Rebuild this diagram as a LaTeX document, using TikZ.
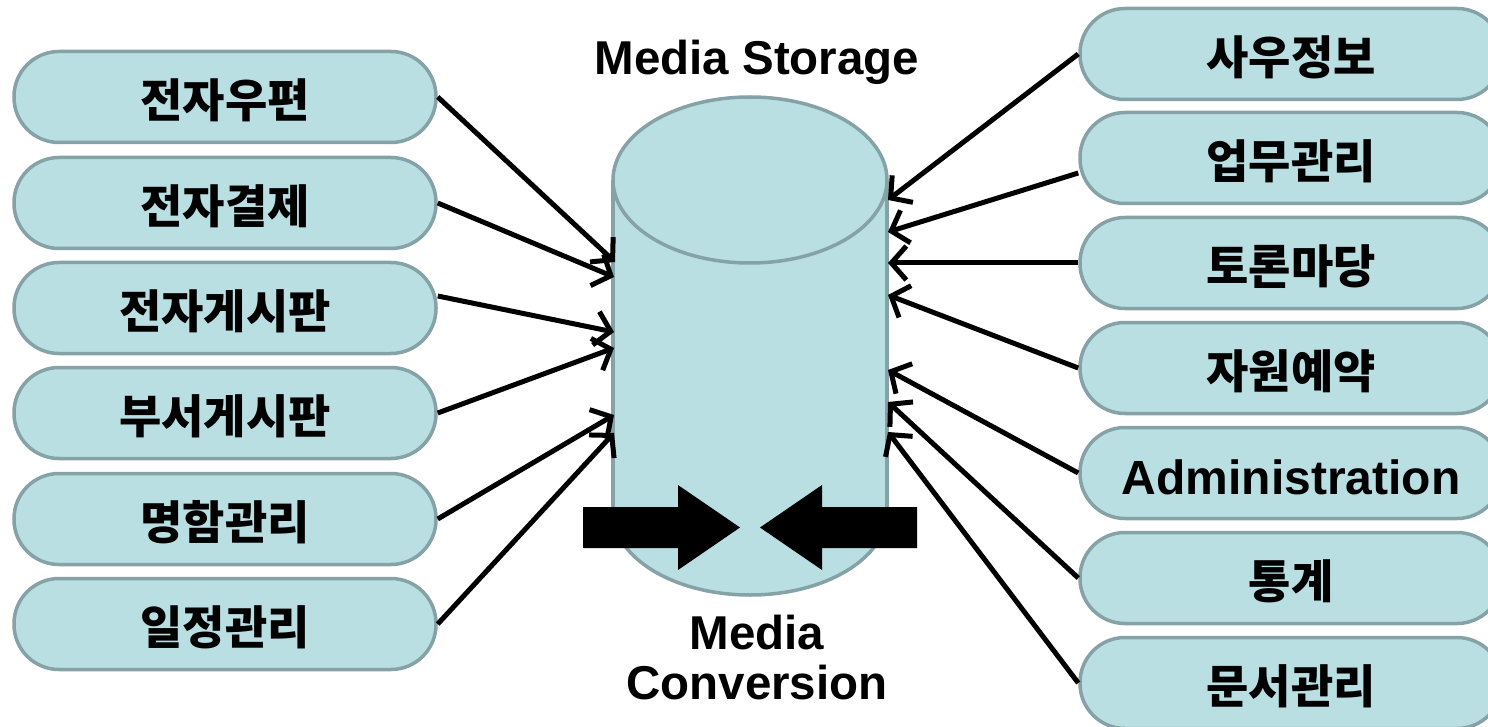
\documentclass[tikz,border=0pt]{standalone}
\usepackage{fontspec}
\setmainfont{Liberation Sans}
\newfontfamily\kofont{Noto Sans CJK KR}
\usetikzlibrary{arrows.meta}

\definecolor{fillcol}{RGB}{185,223,227}
\definecolor{edgecol}{RGB}{133,162,166}

\tikzset{
  x=1pt, y=-1pt,
  menu/.style={draw=edgecol, fill=fillcol, line width=3.5pt,
    rounded corners=45pt, minimum width=422pt, minimum height=91pt,
    inner sep=0pt, text height=45pt, text depth=4pt,
    font=\kofont\bfseries\fontsize{46}{50}\selectfont},
  latinmenu/.style={menu, text height=46pt, text depth=4pt,
    font=\bfseries\fontsize{48}{50}\selectfont},
  title/.style={font=\bfseries\fontsize{47.5}{50}\selectfont, align=center, inner sep=0pt},
  link/.style={line width=5pt, -{Straight Barb[length=15pt,width=34pt]}},
  bigarrow/.style={fill=black},
}

\begin{document}
\begin{tikzpicture}
\useasboundingbox (0,0) rectangle (1488,727);
\clip (0,0) rectangle (1488,727);

% storage cylinder
\fill[fillcol] (750,512) ellipse [x radius=137, y radius=83];
\fill[fillcol] (613,180) rectangle (887,512);
\begin{scope}
  \clip (590,512) rectangle (910,620);
  \draw[edgecol, line width=3.5pt] (750,512) ellipse [x radius=137, y radius=83];
\end{scope}
\draw[edgecol, line width=3.5pt] (613,180) -- (613,512) (887,180) -- (887,512);
\draw[edgecol, line width=3.5pt, fill=fillcol] (750,180) ellipse [x radius=137, y radius=83];
\node[draw=none, minimum width=274pt, minimum height=500pt, inner sep=0pt] (cyl) at (750,345) {};

% conversion arrows
\fill[bigarrow] (583,507) -- (678,507) -- (678,485) -- (740,527.5) -- (678,570) -- (678,548) -- (583,548) -- cycle;
\fill[bigarrow] (917,507) -- (822,507) -- (822,485) -- (760,527.5) -- (822,570) -- (822,548) -- (917,548) -- cycle;

% labels
\node[title] (storage) at (757,62) {Media Storage};
\node[title] (conv) at (757,658) {Media\\[0pt]Conversion};

% left applications
\node[menu] (l1) at (225,97)  {전자우편};
\node[menu] (l2) at (225,203) {전자결제};
\node[menu] (l3) at (225,308) {전자게시판};
\node[menu] (l4) at (225,413) {부서게시판};
\node[menu] (l5) at (225,519) {명함관리};
\node[menu] (l6) at (225,624) {일정관리};

% right applications
\node[menu] (r1) at (1291,54)  {사우정보};
\node[menu] (r2) at (1291,158) {업무관리};
\node[menu] (r3) at (1291,263) {토론마당};
\node[menu] (r4) at (1291,368) {자원예약};
\node[latinmenu] (r5) at (1291,473) {Administration};
\node[menu] (r6) at (1291,578) {통계};
\node[menu] (r7) at (1291,683) {문서관리};

% arrow ends on the cylinder
\coordinate (a1) at (615,262);
\coordinate (a2) at (614,277);
\coordinate (a3) at (614,332);
\coordinate (a4) at (614,348);
\coordinate (a5) at (614,415);
\coordinate (a6) at (614,433);
\coordinate (b1) at (888,200);
\coordinate (b2) at (888,232);
\coordinate (b3) at (888,263);
\coordinate (b4) at (888,295);
\coordinate (b5) at (888,370);
\coordinate (b6) at (888,402);
\coordinate (b7) at (888,432);

\draw[link] (l1.east) -- (a1);
\draw[link] (l2.east) -- (a2);
\draw[link] ([yshift=12pt]l3.east) -- (a3);
\draw[link] (l4.east) -- (a4);
\draw[link] (l5.east) -- (a5);
\draw[link] (l6.east) -- (a6);

\draw[link] (r1.west) -- (b1);
\draw[link] ([yshift=-15pt]r2.west) -- (b2);
\draw[link] (r3.west) -- (b3);
\draw[link] (r4.west) -- (b4);
\draw[link] (r5.west) -- (b5);
\draw[link] (r6.west) -- (b6);
\draw[link] (r7.west) -- (b7);
\end{tikzpicture}
\end{document}
